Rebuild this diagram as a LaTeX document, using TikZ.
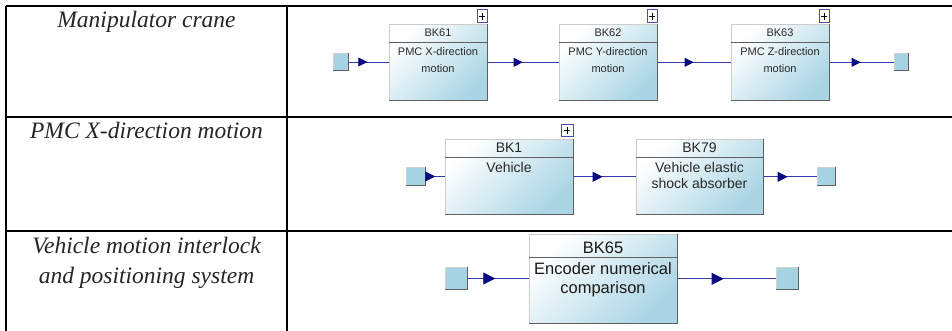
\documentclass[tikz,border=0pt]{standalone}
\usepackage{fontspec}
\setmainfont{Liberation Serif}
\setsansfont{Liberation Sans}
\usetikzlibrary{arrows.meta,decorations.markings}
\definecolor{boxblue}{RGB}{170,213,228}
\definecolor{portblue}{RGB}{166,211,226}
\definecolor{linkblue}{RGB}{55,55,175}
\definecolor{tipblue}{RGB}{10,10,130}
\definecolor{edgegray}{RGB}{95,95,95}
\definecolor{txtgray}{RGB}{40,40,40}
\begin{document}
\begin{tikzpicture}[x=1pt,y=-1pt,
  tbl/.style={black, line width=1.5pt},
  rowlabel/.style={font=\fontsize{23.5}{27}\selectfont\itshape, anchor=base, inner sep=0pt, text=black!85},
  blk/.style={draw=gray!40, line width=0.6pt, shading=axis, top color=white, bottom color=boxblue, shading angle=45, inner sep=0pt, anchor=north west},
  port/.style={fill=portblue, draw=gray!35, line width=0.5pt, inner sep=0pt},
  hdr/.style={font=\sffamily, anchor=base, inner sep=0pt, text=txtgray},
  plusbox/.style={draw=gray!60!blue, fill=white, line width=0.6pt, inner sep=0pt,
     path picture={\draw[black, line width=0.6pt]
       ([xshift=-3pt]path picture bounding box.center) -- ([xshift=3pt]path picture bounding box.center)
       ([yshift=-3.5pt]path picture bounding box.center) -- ([yshift=3.5pt]path picture bounding box.center);}},
  conn/.style n args={2}{draw=linkblue, line width=0.8pt,
     decoration={markings, mark=at position #1 with {\arrow[tipblue]{Triangle[length=#2,width=#2]}}},
     postaction=decorate}
]
\useasboundingbox (0,0) rectangle (952,331);
\fill[white] (0,0) rectangle (952,331);

% table rules
\draw[tbl] (6,6) -- (952,6);
\draw[tbl] (6,117) -- (952,117);
\draw[tbl] (6,231) -- (952,231);
\draw[tbl] (6,6) -- (6,331);
\draw[tbl] (287,6) -- (287,331);

% left column labels
\node[rowlabel] (lab1) at (146.5,28) {Manipulator crane};
\node[rowlabel] (lab2) at (146.5,139) {PMC X-direction motion};
\node[rowlabel] (lab3a) at (146.5,253) {Vehicle motion interlock};
\node[rowlabel] (lab3b) at (146.5,283) {and positioning system};

% ---------- row 1 ----------
\node[port, minimum width=15pt, minimum height=17pt] (in1) at (340.5,62) {};
\node[port, minimum width=14pt, minimum height=17pt] (out1) at (901.5,62) {};
\node[blk, minimum width=98pt, minimum height=76pt] (bk61) at (389,24) {};
\node[blk, minimum width=98pt, minimum height=76pt] (bk62) at (559,24) {};
\node[blk, minimum width=98pt, minimum height=76pt] (bk63) at (731,24) {};
\foreach \n in {in1,out1,bk61,bk62,bk63}{
  \draw[edgegray, line width=1.3pt] (\n.north east) -- (\n.south east) -- (\n.south west);}
\foreach \n in {bk61,bk62,bk63}{
  \draw[edgegray, line width=1pt] ([yshift=-19pt]\n.north west) -- ([yshift=-19pt]\n.north east);}
\node[plusbox, minimum width=10pt, minimum height=13pt, anchor=south east] (p61) at ([yshift=1pt]bk61.north east) {};
\node[plusbox, minimum width=10pt, minimum height=13pt, anchor=south east] (p62) at ([yshift=1pt]bk62.north east) {};
\node[plusbox, minimum width=10pt, minimum height=13pt, anchor=south east] (p63) at ([yshift=1pt]bk63.north east) {};
\begin{scope}[hdr/.append style={font=\sffamily\fontsize{11}{13}\selectfont}]
\node[hdr] (t61a) at (438,37) {BK61};
\node[hdr] (t61b) at (438,56) {PMC X-direction};
\node[hdr] (t61c) at (438,73) {motion};
\node[hdr] (t62a) at (608,37) {BK62};
\node[hdr] (t62b) at (608,56) {PMC Y-direction};
\node[hdr] (t62c) at (608,73) {motion};
\node[hdr] (t63a) at (780,37) {BK63};
\node[hdr] (t63b) at (780,56) {PMC Z-direction};
\node[hdr] (t63c) at (780,73) {motion};
\end{scope}
\draw[conn={19pt}{9pt}] (in1.east) -- (in1.east -| bk61.west);
\draw[conn={35pt}{9pt}] (bk61.east) -- (bk62.west);
\draw[conn={36pt}{9pt}] (bk62.east) -- (bk63.west);
\draw[conn={31pt}{9pt}] (bk63.east) -- (bk63.east -| out1.west);

% ---------- row 2 ----------
\node[port, minimum width=19pt, minimum height=18pt] (in2) at (415.5,176.5) {};
\node[port, minimum width=18pt, minimum height=18pt] (out2) at (826,176.5) {};
\node[blk, minimum width=128pt, minimum height=75pt] (bk1) at (445,139) {};
\node[blk, minimum width=127pt, minimum height=75pt] (bk79) at (636,139) {};
\foreach \n in {in2,out2,bk1,bk79}{
  \draw[edgegray, line width=1.3pt] (\n.north east) -- (\n.south east) -- (\n.south west);}
\foreach \n in {bk1,bk79}{
  \draw[edgegray, line width=1pt] ([yshift=-19pt]\n.north west) -- ([yshift=-19pt]\n.north east);}
\node[plusbox, minimum width=12pt, minimum height=12pt, anchor=south east] (p1) at ([yshift=2pt]bk1.north east) {};
\begin{scope}[hdr/.append style={font=\sffamily\fontsize{14}{16}\selectfont}]
\node[hdr] (t1a) at (509,153) {BK1};
\node[hdr] (t1b) at (509,172) {Vehicle};
\node[hdr] (t79a) at (699.5,153) {BK79};
\node[hdr] (t79b) at (699.5,172) {Vehicle elastic};
\node[hdr] (t79c) at (699.5,188) {shock absorber};
\end{scope}
\draw[conn={10pt}{10pt}] (in2.east) -- (in2.east -| bk1.west);
\draw[conn={29pt}{10pt}] (bk1.east) -- (bk79.west);
\draw[conn={24pt}{10pt}] (bk79.east) -- (bk79.east -| out2.west);

% ---------- row 3 ----------
\node[port, minimum width=22pt, minimum height=22pt] (in3) at (456,278.5) {};
\node[port, minimum width=22pt, minimum height=22pt] (out3) at (787,278.5) {};
\node[blk, minimum width=148pt, minimum height=89pt] (bk65) at (529,234) {};
\foreach \n in {in3,out3,bk65}{
  \draw[edgegray, line width=1.3pt] (\n.north east) -- (\n.south east) -- (\n.south west);}
\draw[edgegray, line width=1pt] ([yshift=-23pt]bk65.north west) -- ([yshift=-23pt]bk65.north east);
\begin{scope}[hdr/.append style={font=\sffamily\fontsize{16.5}{19}\selectfont, text=black!90}]
\node[hdr] (t65a) at (603,253) {BK65};
\node[hdr] (t65b) at (603,274) {Encoder numerical};
\node[hdr] (t65c) at (603,293) {comparison};
\end{scope}
\draw[conn={28pt}{12pt}] (in3.east) -- (in3.east -| bk65.west);
\draw[conn={46pt}{12pt}] (bk65.east) -- (bk65.east -| out3.west);
\end{tikzpicture}
\end{document}
